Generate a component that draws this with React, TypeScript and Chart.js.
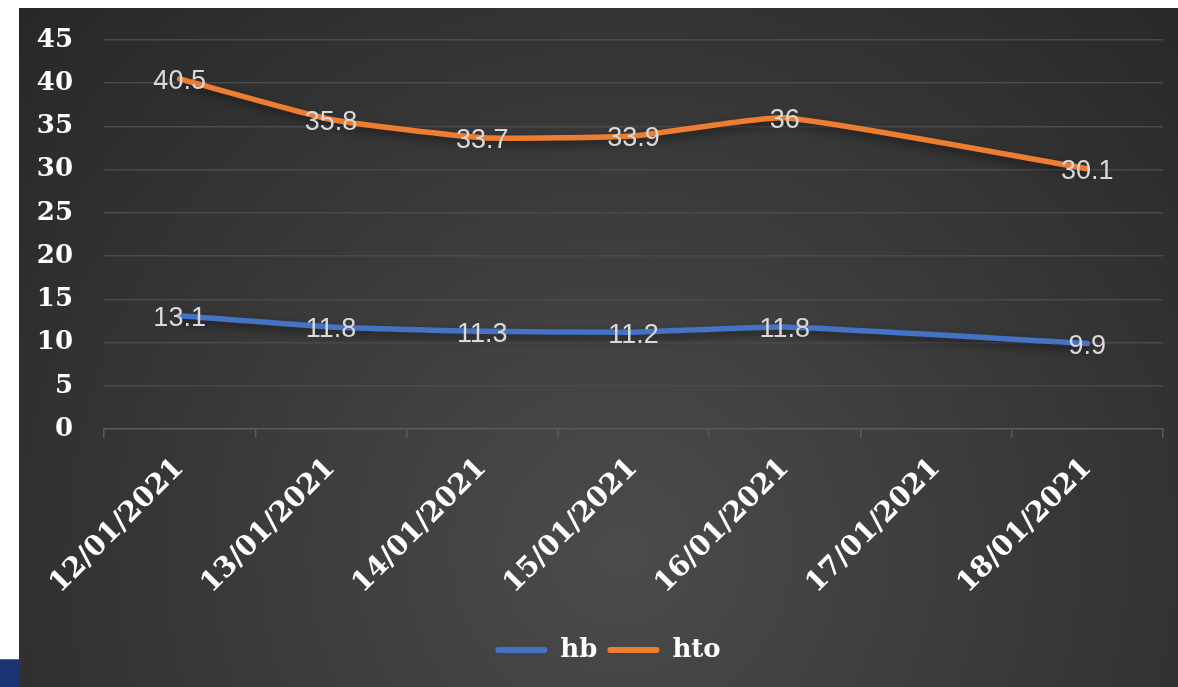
import React, { useEffect, useRef } from "react";
import { Chart, registerables } from "chart.js";

Chart.register(...registerables);

const categories = ["12/01/2021", "13/01/2021", "14/01/2021", "15/01/2021", "16/01/2021", "17/01/2021", "18/01/2021"];
const hbValues: (number | null)[] = [13.1, 11.8, 11.3, 11.2, 11.8, null, 9.9];
const htoValues: (number | null)[] = [40.5, 35.8, 33.7, 33.9, 36, null, 30.1];
const seriesNames = ["hb", "hto"];
const seriesColors = ["#4472C4", "#ED7D31"];
const yTicks = [0, 5, 10, 15, 20, 25, 30, 35, 40, 45];

const SERIF = "DejaVu Serif";

const bgPlugin = {
  id: "bgPlugin",
  beforeDraw(chart: any) {
    const { ctx, width, height } = chart;
    ctx.save();
    const g = ctx.createRadialGradient(width * 0.52, height * 0.8, 0, width * 0.52, height * 0.8, width * 0.72);
    g.addColorStop(0, "#4b4b4b");
    g.addColorStop(1, "#262626");
    ctx.fillStyle = g;
    ctx.fillRect(0, 0, width, height);
    ctx.restore();
  },
};

const legendShift = {
  id: "legendShift",
  afterLayout(chart: any) {
    if (chart.legend) {
      chart.legend.left += 17;
      chart.legend.right += 17;
    }
  },
};

const shadowPlugin = {
  id: "shadowPlugin",
  beforeDatasetDraw(chart: any) {
    const ctx = chart.ctx;
    ctx.save();
    ctx.shadowColor = "rgba(0,0,0,0.5)";
    ctx.shadowBlur = 8;
    ctx.shadowOffsetX = 1;
    ctx.shadowOffsetY = 4;
  },
  afterDatasetDraw(chart: any) {
    chart.ctx.restore();
  },
};

const labelPlugin = {
  id: "labelPlugin",
  afterDatasetsDraw(chart: any) {
    const ctx = chart.ctx;
    ctx.save();
    ctx.font = "27px 'Liberation Sans', sans-serif";
    ctx.fillStyle = "#d9d9d9";
    ctx.textAlign = "center";
    ctx.textBaseline = "middle";
    chart.data.datasets.forEach((ds: any, i: number) => {
      const meta = chart.getDatasetMeta(i);
      meta.data.forEach((pt: any, j: number) => {
        const v = ds.data[j];
        if (v === null || v === undefined) return;
        ctx.fillText(String(v), pt.x, pt.y + 3);
      });
    });
    ctx.restore();
  },
};

export default function App() {
  const ref = useRef<HTMLCanvasElement>(null);
  useEffect(() => {
    if (!ref.current) return;
    const chart = new Chart(ref.current, {
      type: "line",
      data: {
        labels: categories,
        datasets: [hbValues, htoValues].map((d, i) => ({
          label: seriesNames[i],
          data: d,
          borderColor: seriesColors[i],
          backgroundColor: seriesColors[i],
          borderWidth: 5.5,
          pointRadius: 0,
          tension: 0.15,
          spanGaps: true,
          borderCapStyle: "round" as const,
          borderJoinStyle: "round" as const,
        })),
      },
      options: {
        animation: false,
        responsive: false,
        maintainAspectRatio: false,
        layout: { padding: { top: 32, right: 15, left: 0, bottom: 14 } },
        plugins: {
          tooltip: { enabled: false },
          legend: {
            position: "bottom",
            labels: {
              color: "#ffffff",
              font: { family: SERIF, size: 26, weight: "bold" },
              boxWidth: 52,
              boxHeight: 6,
              useBorderRadius: true,
              borderRadius: 3,
              padding: 10,
              generateLabels(chart: any) {
                return chart.data.datasets.map((ds: any, i: number) => ({
                  text: ds.label,
                  fillStyle: ds.borderColor,
                  strokeStyle: ds.borderColor,
                  lineWidth: 0,
                  fontColor: "#ffffff",
                  hidden: false,
                  datasetIndex: i,
                  borderRadius: 3,
                }));
              },
            },
          },
        },
        scales: {
          x: {
            offset: true,
            grid: {
              offset: true,
              drawOnChartArea: false,
              drawTicks: true,
              tickLength: 9,
              color: "#5a5a5a",
              lineWidth: 1.5,
            },
            border: { display: true, color: "#5a5a5a", width: 1.5 },
            ticks: {
              color: "#ffffff",
              font: { family: SERIF, size: 28, weight: "bold" },
              minRotation: 45,
              maxRotation: 45,
              padding: 14,
              autoSkip: false,
            },
            afterFit(scale: any) {
              scale.height = 198;
              scale.paddingLeft = 0;
              scale.paddingRight = 0;
            },
          },
          y: {
            min: 0,
            max: 45,
            afterBuildTicks(scale: any) {
              scale.ticks = yTicks.map((v) => ({ value: v }));
            },
            grid: { color: "#4a4a4a", lineWidth: 1.5, drawTicks: false },
            border: { display: false },
            ticks: {
              color: "#ffffff",
              font: { family: SERIF, size: 26, weight: "bold" },
              padding: 31,
            },
            afterFit(scale: any) {
              scale.width = 85;
              scale.paddingTop = 0;
              scale.paddingBottom = 0;
            },
          },
        },
      },
      plugins: [bgPlugin, legendShift, shadowPlugin, labelPlugin],
    });
    return () => chart.destroy();
  }, []);

  return (
    <div style={{ position: "fixed", left: 0, top: 0, width: 1178, height: 687, background: "#ffffff", overflow: "hidden" }}>
      <canvas ref={ref} width={1159} height={679} style={{ position: "absolute", left: 19, top: 8, width: 1159, height: 679 }} />
      <div style={{ position: "absolute", left: 0, top: 659, width: 19, height: 28, background: "#1b3370", borderTop: "1px solid #4a6aa8" }} />
    </div>
  );
}
